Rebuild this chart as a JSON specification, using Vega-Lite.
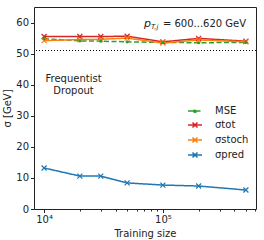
{
  "$schema": "https://vega.github.io/schema/vega-lite/v6.json",
  "width": 222,
  "height": 202,
  "autosize": "none",
  "padding": {"left": 34, "top": 7, "right": 8, "bottom": 31},
  "config": {
    "font": "DejaVu Sans",
    "view": {"stroke": "#222", "strokeWidth": 1},
    "axis": {"domain": false, "grid": false, "tickColor": "#222", "labelColor": "#222", "titleColor": "#222", "labelFontSize": 10, "titleFontSize": 10, "titleFontWeight": "normal", "tickSize": 3.5, "labelPadding": 2, "labelOverlap": false},
    "axisY": {"tickCount": 7, "labelOverlap": false}
  },
  "datasets": {
    "main": [
      {"series": "MSE", "size": 10000, "value": 54.8},
      {"series": "MSE", "size": 20000, "value": 54.1},
      {"series": "MSE", "size": 30000, "value": 54.0},
      {"series": "MSE", "size": 50000, "value": 53.8},
      {"series": "MSE", "size": 100000, "value": 53.6},
      {"series": "MSE", "size": 200000, "value": 53.5},
      {"series": "MSE", "size": 500000, "value": 53.6},
      {"series": "σtot", "size": 10000, "value": 55.5},
      {"series": "σtot", "size": 20000, "value": 55.5},
      {"series": "σtot", "size": 30000, "value": 55.5},
      {"series": "σtot", "size": 50000, "value": 55.6},
      {"series": "σtot", "size": 100000, "value": 53.8},
      {"series": "σtot", "size": 200000, "value": 54.9},
      {"series": "σtot", "size": 500000, "value": 54.0},
      {"series": "σstoch", "size": 10000, "value": 54.2},
      {"series": "σstoch", "size": 20000, "value": 54.5},
      {"series": "σstoch", "size": 30000, "value": 54.6},
      {"series": "σstoch", "size": 50000, "value": 55.0},
      {"series": "σstoch", "size": 100000, "value": 53.4},
      {"series": "σstoch", "size": 200000, "value": 54.4},
      {"series": "σstoch", "size": 500000, "value": 53.8},
      {"series": "σpred", "size": 10000, "value": 13.2},
      {"series": "σpred", "size": 20000, "value": 10.6},
      {"series": "σpred", "size": 30000, "value": 10.6},
      {"series": "σpred", "size": 50000, "value": 8.4},
      {"series": "σpred", "size": 100000, "value": 7.7},
      {"series": "σpred", "size": 200000, "value": 7.4},
      {"series": "σpred", "size": 500000, "value": 6.1}
    ]
  },
  "layer": [
    {
      "data": {"values": [{}]},
      "mark": {"type": "rule", "color": "#000", "strokeDash": [1, 2], "strokeWidth": 1.2},
      "encoding": {"y": {"datum": 51, "type": "quantitative", "scale": {"domain": [0, 65], "nice": false},
                         "axis": {"values": [0, 10, 20, 30, 40, 50, 60], "tickCount": 7, "title": "σ [GeV]", "titlePadding": 3, "labelOverlap": false}}}
    },
    {
      "data": {"name": "main"},
      "mark": {"type": "line", "strokeWidth": 1.5},
      "encoding": {
        "x": {"field": "size", "type": "quantitative", "scale": {"type": "log", "domain": [8225, 608000], "nice": false},
              "axis": {"orient": "bottom", "values": [10000, 100000], "labelExpr": "datum.value == 10000 ? '10⁴' : '10⁵'", "title": "Training size", "titlePadding": 4}},
        "y": {"field": "value", "type": "quantitative", "scale": {"domain": [0, 65], "nice": false},
              "axis": {"values": [0, 10, 20, 30, 40, 50, 60], "tickCount": 7, "title": "σ [GeV]", "titlePadding": 3, "labelOverlap": false}},
        "color": {"field": "series", "type": "nominal",
                  "scale": {"domain": ["MSE", "σtot", "σstoch", "σpred"], "range": ["#2ca02c", "#d62728", "#ff7f0e", "#1f77b4"]},
                  "legend": {"title": null, "orient": "none", "legendX": 153, "legendY": 96, "padding": 0, "rowPadding": 1,
                             "labelFontSize": 10, "labelColor": "#222", "labelOffset": 12, "symbolSize": 196, "symbolStrokeWidth": 1.5,
                             "symbolType": "M-1,0L1,0M-0.36,-0.36L0.36,0.36M-0.36,0.36L0.36,-0.36",
                             "encode": {"symbols": {"update": {"shape": {"signal": "datum.value === 'MSE' ? 'M-1,0L1,0M0.2,0A0.2,0.2 0 1,1 -0.2,0A0.2,0.2 0 1,1 0.2,0' : 'M-1,0L1,0M-0.36,-0.36L0.36,0.36M-0.36,0.36L0.36,-0.36'"}, "fill": {"value": "transparent"}}}}}},
        "strokeDash": {"field": "series", "type": "nominal",
                       "scale": {"domain": ["MSE", "σtot", "σstoch", "σpred"], "range": [[5, 2.5], [1, 0], [1, 0], [1, 0]]}}
      }
    },
    {
      "data": {"name": "main"},
      "transform": [{"filter": "datum.series !== 'MSE'"}],
      "mark": {"type": "point", "shape": "M-1,-1L1,1M-1,1L1,-1", "filled": false, "size": 25, "strokeWidth": 1.2, "opacity": 1},
      "encoding": {
        "x": {"field": "size", "type": "quantitative", "scale": {"type": "log", "domain": [8225, 608000], "nice": false},
              "axis": {"orient": "bottom", "values": [20000, 30000, 40000, 50000, 60000, 70000, 80000, 90000, 200000, 300000, 400000, 500000, 600000], "labels": false, "tickSize": 2, "title": null}},
        "y": {"field": "value", "type": "quantitative", "scale": {"domain": [0, 65], "nice": false},
              "axis": {"values": [0, 10, 20, 30, 40, 50, 60], "tickCount": 7, "title": "σ [GeV]", "titlePadding": 3, "labelOverlap": false}},
        "color": {"field": "series", "type": "nominal"}
      }
    },
    {
      "data": {"name": "main"},
      "transform": [{"filter": "datum.series === 'MSE'"}],
      "mark": {"type": "point", "shape": "circle", "filled": true, "size": 10, "opacity": 1},
      "encoding": {
        "x": {"field": "size", "type": "quantitative", "scale": {"type": "log", "domain": [8225, 608000], "nice": false}, "axis": null},
        "y": {"field": "value", "type": "quantitative", "scale": {"domain": [0, 65], "nice": false},
              "axis": {"values": [0, 10, 20, 30, 40, 50, 60], "tickCount": 7, "title": "σ [GeV]", "titlePadding": 3, "labelOverlap": false}},
        "color": {"field": "series", "type": "nominal"}
      }
    },
    {
      "data": {"values": [{}]},
      "mark": {"type": "text", "text": ["Frequentist", "Dropout"], "fontSize": 10, "lineHeight": 12, "align": "center", "baseline": "middle", "color": "#222"},
      "encoding": {
        "x": {"datum": 17700, "type": "quantitative", "scale": {"type": "log", "domain": [8225, 608000], "nice": false}, "axis": null},
        "y": {"datum": 41.9, "type": "quantitative",
              "axis": {"values": [0, 10, 20, 30, 40, 50, 60], "tickCount": 7, "title": "σ [GeV]", "titlePadding": 3, "labelOverlap": false}}
      }
    },
    {
      "data": {"values": [{}]},
      "mark": {"type": "text", "text": "= 600...620 GeV", "fontSize": 10, "align": "left", "baseline": "middle", "color": "#222"},
      "encoding": {
        "x": {"datum": 100000, "type": "quantitative", "scale": {"type": "log", "domain": [8225, 608000], "nice": false}, "axis": null},
        "y": {"datum": 59.4, "type": "quantitative",
              "axis": {"values": [0, 10, 20, 30, 40, 50, 60], "tickCount": 7, "title": "σ [GeV]", "titlePadding": 3, "labelOverlap": false}}
      }
    },
    {
      "data": {"values": [{}]},
      "mark": {"type": "text", "text": "p", "fontSize": 11, "fontStyle": "italic", "align": "right", "baseline": "middle", "dx": -12, "color": "#222"},
      "encoding": {
        "x": {"datum": 100000, "type": "quantitative", "scale": {"type": "log", "domain": [8225, 608000], "nice": false}, "axis": null},
        "y": {"datum": 59.4, "type": "quantitative",
              "axis": {"values": [0, 10, 20, 30, 40, 50, 60], "tickCount": 7, "title": "σ [GeV]", "titlePadding": 3, "labelOverlap": false}}
      }
    },
    {
      "data": {"values": [{}]},
      "mark": {"type": "text", "text": "T,j", "fontSize": 7, "fontStyle": "italic", "align": "left", "baseline": "middle", "dx": -12, "dy": 3, "color": "#222"},
      "encoding": {
        "x": {"datum": 100000, "type": "quantitative", "scale": {"type": "log", "domain": [8225, 608000], "nice": false}, "axis": null},
        "y": {"datum": 59.4, "type": "quantitative",
              "axis": {"values": [0, 10, 20, 30, 40, 50, 60], "tickCount": 7, "title": "σ [GeV]", "titlePadding": 3, "labelOverlap": false}}
      }
    }
  ],
  "resolve": {"axis": {"x": "independent"}}
}
